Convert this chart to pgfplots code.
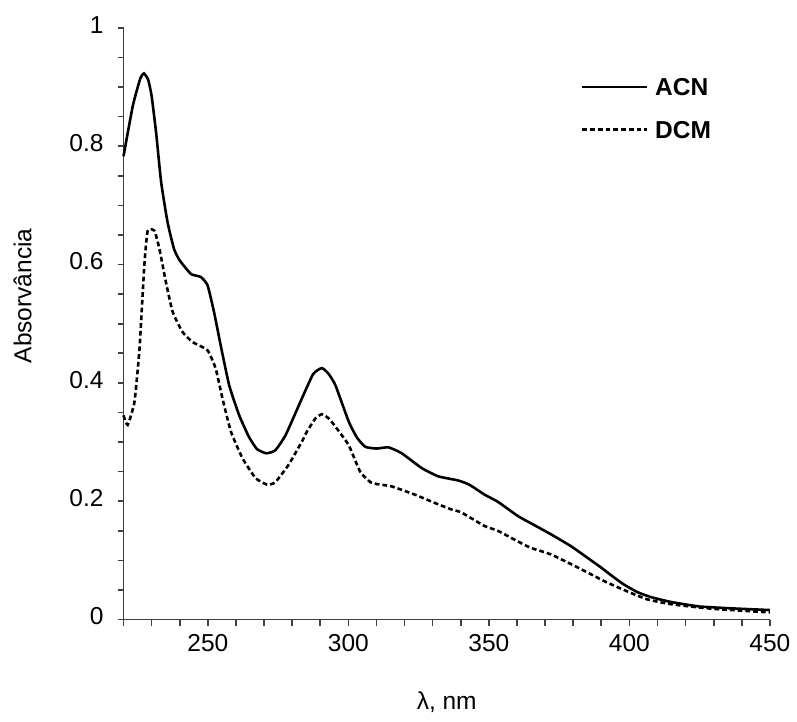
\documentclass[border=0pt]{standalone}
\usepackage{pgfplots}
\pgfplotsset{compat=1.18}
\usepackage{fontspec}
\setmainfont{Liberation Sans}
\begin{document}
\begin{tikzpicture}
\begin{axis}[
  name=ax,
  scale only axis,
  width=324.5pt, height=297pt,
  xmin=220, xmax=450, ymin=0, ymax=1,
  axis lines=left,
  axis line style={draw=black!75, line width=0.9pt, -},
  xtick={250,300,...,450},
  minor xtick={220,230,...,450},
  ytick={0,0.2,0.4,0.6,0.8,1},
  minor y tick num=3,
  tick align=outside,
  major tick length=3pt, minor tick length=3pt,
  every tick/.style={draw=black!75, line width=0.8pt},
  tick label style={font=\fontsize{12.3}{14}\selectfont},
  /pgf/number format/assume math mode=true,
  yticklabel style={xshift=-3.5pt, yshift=1.5pt},
  xticklabel style={yshift=-1pt},
  xlabel={λ, nm},
  ylabel={Absorvância},
  label style={font=\fontsize{12.3}{14}\selectfont},
  xlabel style={at={(axis description cs:0.5,-0.14)}, anchor=center},
  ylabel style={at={(axis description cs:-0.156,0.547)}, anchor=center},
  legend cell align=left,
  legend style={draw=none, fill=none, at={(axis description cs:0.707,0.916)}, anchor=north west,
    inner sep=0pt, row sep=12.5pt, font=\fontsize{12.3}{14}\selectfont\bfseries,
    nodes={inner sep=0pt, text height=9pt, text depth=0pt}},
  legend image code/.code={\draw[#1] (0pt,0pt) -- (32.5pt,0pt); \path (36pt,0pt);},
  clip=false,
]
\addplot[black, line width=1.3pt, smooth, tension=0.3] coordinates {
(220,0.783) (223.3,0.868) (226,0.915) (227.3,0.923) (228.8,0.912) (230,0.885) (231.6,0.823) (233.4,0.739)
(235.7,0.671) (238,0.626) (240,0.607) (244,0.584) (247.5,0.579) (249.9,0.565)
(252.2,0.52) (254.6,0.463) (257.6,0.396) (261.1,0.346) (264.6,0.309) (267.5,0.288)
(270.8,0.281) (274,0.286) (277.7,0.312) (283.5,0.374) (287.5,0.415) (290.6,0.425)
(293,0.415) (295.4,0.396) (300.1,0.335) (303,0.308) (306,0.292) (310,0.289)
(314.3,0.291) (319,0.281) (326.1,0.256) (332,0.242) (339.1,0.235) (343,0.228)
(348.5,0.211) (353.2,0.199) (360.3,0.175) (366,0.16) (372.1,0.144) (379.2,0.124)
(384,0.108) (389.9,0.088) (394,0.073) (398.1,0.059) (403,0.046) (407.6,0.038)
(413.5,0.031) (418,0.027) (425,0.022) (435.8,0.019) (450,0.016)
};
\addlegendentry{ACN}
\addplot[black, line width=1.3pt, dash pattern=on 2.4pt off 1.5pt, smooth, tension=0.3] coordinates {
(220,0.345) (221.5,0.329) (223.9,0.368) (225.7,0.458) (227.4,0.598) (228.6,0.657)
(231,0.657) (232.8,0.626) (235.1,0.570) (237.5,0.52) (241,0.486) (244.6,0.469)
(249.9,0.455) (252.8,0.424) (255.2,0.374) (258.2,0.318) (262.3,0.273) (267,0.239)
(271.1,0.228) (274,0.232) (278.8,0.262) (283.5,0.301) (285.3,0.318) (288.3,0.34)
(290.6,0.347) (293,0.34) (295.4,0.326) (300.1,0.295) (304.2,0.25) (308.3,0.231)
(315.4,0.225) (323.7,0.211) (330.8,0.197) (336.7,0.186) (340.2,0.181) (348.5,0.158)
(353.2,0.150) (360.3,0.132) (365,0.121) (372.1,0.11) (381.6,0.088) (391,0.065)
(394.7,0.057) (400.5,0.045) (406.4,0.034) (413.5,0.027) (418,0.024) (430,0.018)
(450,0.012)
};
\addlegendentry{DCM}
\end{axis}
\path (ax.south west) ++(-62pt,-51pt) rectangle ++(398.5pt,362pt);
\end{tikzpicture}
\end{document}
